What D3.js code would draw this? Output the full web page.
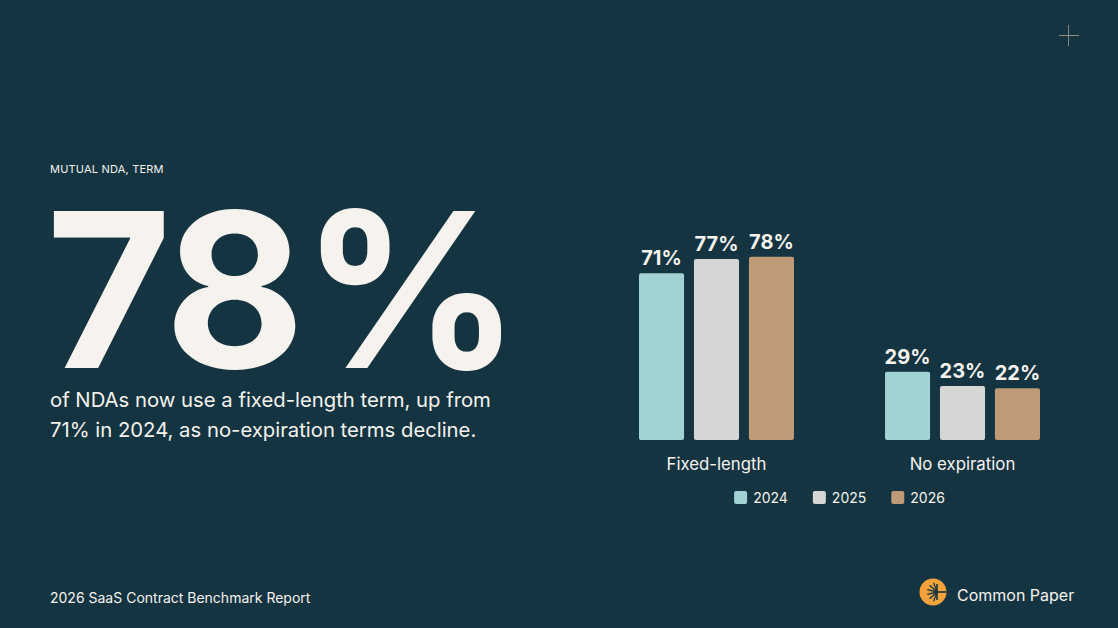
<!DOCTYPE html>
<html>
<head>
<meta charset="utf-8">
<script src="https://cdn.jsdelivr.net/npm/d3@7"></script>
<style>
  html, body { margin: 0; padding: 0; background: #133440; }
  svg { display: block; font-family: Inter, "Noto Sans", sans-serif; }
</style>
</head>
<body>
<script>
// chart data
const categories = ["Fixed-length", "No expiration"];
const years = ["2024", "2025", "2026"];
const values2024 = [71, 29];
const values2025 = [77, 23];
const values2026 = [78, 22];
const colors = ["#a2d3d4", "#d6d6d4", "#bf9a76"];

const w = 1118;
const h = 628;
const ink = "#f6f2ee";

const series = [values2024, values2025, values2026];
const rows = [];
categories.forEach((c, ci) => {
    years.forEach((y, yi) => rows.push({cat: c, year: y, value: series[yi][ci]}));
});

const svg = d3.select("body").append("svg")
    .attr("width", w)
    .attr("height", h);

svg.append("rect").attr("width", w).attr("height", h).attr("fill", "#133440");

// left side headline
svg.append("text")
    .attr("x", 50).attr("y", 173)
    .attr("font-size", "11px")
    .attr("fill", ink)
    .attr("letter-spacing", "0.2px")
    .text("MUTUAL NDA, TERM");

svg.append("text")
    .attr("x", 46).attr("y", 368)
    .attr("font-size", "216px")
    .attr("font-weight", 700)
    .attr("fill", ink)
    .attr("letter-spacing", "-4px")
    .text(values2026[0] + "%");

const sub = ["of NDAs now use a fixed-length term, up from",
             "71% in 2024, as no-expiration terms decline."];
svg.selectAll("text.sub")
    .data(sub)
    .join("text")
    .attr("class", "sub")
    .attr("x", 50)
    .attr("y", (d, i) => 407 + i * 30)
    .attr("font-size", "20.3px")
    .attr("fill", ink)
    .text(d => d);

// bar chart
const x0 = d3.scaleBand()
    .domain(categories)
    .range([639, 1040])
    .paddingInner(0.37)
    .paddingOuter(0);

const x1 = d3.scaleBand()
    .domain(years)
    .range([0, x0.bandwidth()])
    .paddingInner(0.18)
    .paddingOuter(0);

const y = d3.scaleLinear()
    .domain([0, 100])
    .range([440, 205]);

const g = svg.append("g");

g.selectAll("rect.bar")
    .data(rows)
    .join("rect")
    .attr("class", "bar")
    .attr("x", d => x0(d.cat) + x1(d.year))
    .attr("y", d => y(d.value))
    .attr("width", x1.bandwidth())
    .attr("height", d => y(0) - y(d.value))
    .attr("rx", 2)
    .attr("fill", d => colors[years.indexOf(d.year)]);

g.selectAll("text.val")
    .data(rows)
    .join("text")
    .attr("class", "val")
    .attr("x", d => x0(d.cat) + x1(d.year) + x1.bandwidth() / 2)
    .attr("y", d => y(d.value) - 8)
    .attr("text-anchor", "middle")
    .attr("font-size", "20px")
    .attr("font-weight", 700)
    .attr("fill", ink)
    .text(d => d.value + "%");

g.selectAll("text.cat")
    .data(categories)
    .join("text")
    .attr("class", "cat")
    .attr("x", d => x0(d) + x0.bandwidth() / 2)
    .attr("y", 470)
    .attr("text-anchor", "middle")
    .attr("font-size", "16.8px")
    .attr("fill", ink)
    .text(d => d);

// legend, centred under the bars
const legend = svg.append("g");
const items = legend.selectAll("g")
    .data(years)
    .join("g");
items.append("rect")
    .attr("width", 13).attr("height", 13)
    .attr("y", 491)
    .attr("rx", 2)
    .attr("fill", (d, i) => colors[i]);
items.append("text")
    .attr("x", 19).attr("y", 503)
    .attr("font-size", "14px")
    .attr("fill", ink)
    .text(d => d);

const gap = 25;
let cursor = 0;
items.each(function() {
    d3.select(this).attr("transform", "translate(" + cursor + ",0)");
    cursor += this.getBBox().width + gap;
});
const legendW = cursor - gap;
const chartMid = (x0.range()[0] + x0.range()[1]) / 2;
legend.attr("transform", "translate(" + (chartMid - legendW / 2) + ",0)");

// corner plus
svg.append("line").attr("x1", 1059).attr("x2", 1079).attr("y1", 35.5).attr("y2", 35.5)
    .attr("stroke", "#9a8a72").attr("stroke-width", 1);
svg.append("line").attr("x1", 1068.5).attr("x2", 1068.5).attr("y1", 25).attr("y2", 46)
    .attr("stroke", "#7f8a88").attr("stroke-width", 1);

// footer
svg.append("text")
    .attr("x", 50).attr("y", 603)
    .attr("font-size", "14px")
    .attr("fill", ink)
    .text("2026 SaaS Contract Benchmark Report");

const logo = svg.append("g").attr("transform", "translate(933,592)");
logo.append("circle").attr("r", 13.5).attr("fill", "#f4a23c");
const hub = 4;
logo.append("line").attr("x1", hub).attr("x2", hub).attr("y1", -8).attr("y2", 8)
    .attr("stroke", "#133440").attr("stroke-width", 1.6);
logo.append("line").attr("x1", hub).attr("x2", 13.5).attr("y1", 0).attr("y2", 0)
    .attr("stroke", "#133440").attr("stroke-width", 1.6);
d3.range(-70, 71, 28).forEach(a => {
    const r = a * Math.PI / 180;
    logo.append("line")
        .attr("x1", hub).attr("y1", 0)
        .attr("x2", hub - 10 * Math.cos(r)).attr("y2", 10 * Math.sin(r))
        .attr("stroke", "#133440").attr("stroke-width", 1.3);
});

svg.append("text")
    .attr("x", 957).attr("y", 601)
    .attr("font-size", "16px")
    .attr("fill", ink)
    .text("Common Paper");
</script>
</body>
</html>
